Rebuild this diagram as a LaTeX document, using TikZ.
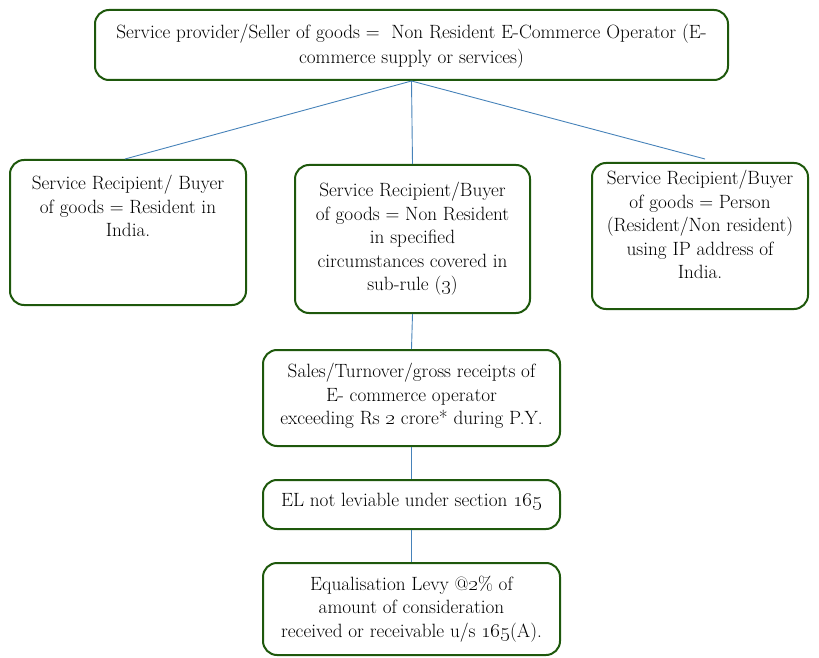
\documentclass[tikz,border=0pt]{standalone}
\usetikzlibrary{positioning}
\definecolor{boxgreen}{RGB}{30,88,12}
\definecolor{linkblue}{RGB}{70,130,185}
\newcommand{\osn}[1]{\oldstylenums{#1}}
\begin{document}
\begin{tikzpicture}[x=1pt,y=1pt,
  box/.style={draw=boxgreen, line width=2pt, rounded corners=14pt, fill=white},
  txt/.style={align=center, font=\fontsize{19.2}{23.5}\selectfont, inner sep=0pt},
  conn/.style={draw=linkblue, line width=0.9pt}]
\useasboundingbox (0,0) rectangle (819,657);
% boxes (centres measured from the top-left, y flipped)
\node[box, minimum width=633pt, minimum height=70pt] (top) at (411.5,612) {};
\node[box, minimum width=236pt, minimum height=145pt] (left) at (128,424.5) {};
\node[box, minimum width=235pt, minimum height=148pt] (mid) at (412.5,418) {};
\node[box, minimum width=216pt, minimum height=146pt] (right) at (700,421) {};
\node[box, minimum width=297pt, minimum height=96pt] (sales) at (411.5,259) {};
\node[box, minimum width=297pt, minimum height=49pt] (el) at (411.5,152.5) {};
\node[box, minimum width=297pt, minimum height=92pt] (levy) at (411.5,48) {};
% texts
\node[txt, font=\fontsize{19.2}{25}\selectfont] at ([yshift=-1pt]top.center) {Service provider/Seller of goods =\ \ Non Resident E-Commerce Operator (E-\\commerce supply or services)};
\node[txt, anchor=north] at ([yshift=-16pt]left.north) {Service Recipient/ Buyer\\of goods = Resident in\\India.};
\node[txt] at (mid.center) {Service Recipient/Buyer\\of goods = Non Resident\\in specified\\circumstances covered in\\sub-rule (\osn{3})};
\node[txt, anchor=north] at ([yshift=-8pt]right.north) {Service Recipient/Buyer\\of goods = Person\\(Resident/Non resident)\\using IP address of\\India.};
\node[txt] at ([yshift=2pt]sales.center) {Sales/Turnover/gross receipts of\\E- commerce operator\\exceeding Rs \osn{2} crore* during P.Y.};
\node[txt] at ([yshift=3pt]el.center) {EL not leviable under section \osn{165}};
\node[txt] at (levy.center) {Equalisation Levy @\osn{2}\% of\\amount of consideration\\received or receivable u/s \osn{165}(A).};
% connectors
\draw[conn] (top.south) -- ([xshift=-3pt]left.north);
\draw[conn] (top.south) -- (mid.north);
\draw[conn] (top.south) -- ([xshift=5pt,yshift=3pt]right.north);
\draw[conn] (mid.south) -- (sales.north);
\draw[conn] (sales.south) -- (el.north);
\draw[conn] (el.south) -- (levy.north);
\end{tikzpicture}
\end{document}
